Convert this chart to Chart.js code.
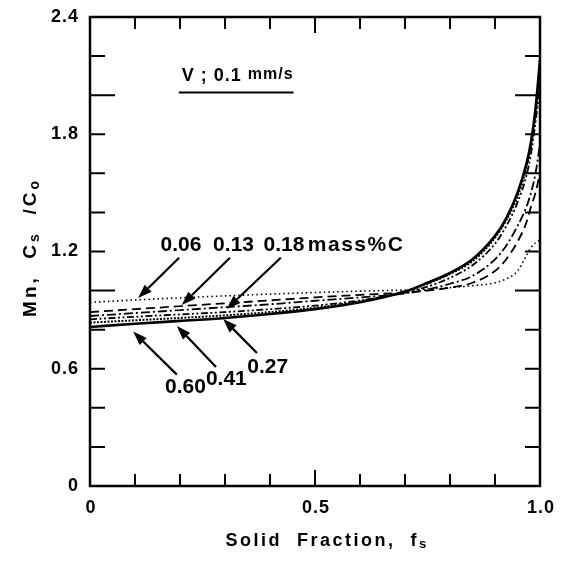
<!DOCTYPE html>
<html>
<head>
<meta charset="utf-8">
<script src="https://cdn.jsdelivr.net/npm/chart.js@4.4.1/dist/chart.umd.min.js"></script>
<style>
  html, body { margin: 0; padding: 0; background: #fff; }
  canvas { display: block; }
</style>
</head>
<body>
<canvas id="chart" width="561" height="563"></canvas>
<script>
// Mn segregation in the solid vs solid fraction, several carbon levels
const FONT = "'Liberation Sans', Arial, Helvetica, sans-serif";
const INK = '#000';

const FS = [0, 0.1, 0.2, 0.3, 0.4, 0.5, 0.6, 0.7, 0.75, 0.8, 0.85, 0.9, 0.925, 0.95, 0.97, 0.98, 0.99, 1.0];

const CS_006 = [0.94, 0.952, 0.963, 0.973, 0.982, 0.99, 0.997, 1.003, 1.008, 1.015, 1.025, 1.04, 1.06, 1.10, 1.18, 1.22, 1.245, 1.26];
const CS_013 = [0.89, 0.905, 0.92, 0.935, 0.95, 0.965, 0.978, 0.99, 1.0, 1.015, 1.04, 1.10, 1.16, 1.25, 1.35, 1.43, 1.50, 1.60];
const CS_018 = [0.87, 0.885, 0.90, 0.915, 0.93, 0.948, 0.965, 0.985, 1.005, 1.035, 1.075, 1.16, 1.23, 1.33, 1.43, 1.50, 1.60, 1.75];
const CS_027 = [0.853, 0.866, 0.878, 0.89, 0.905, 0.923, 0.95, 0.99, 1.02, 1.065, 1.13, 1.24, 1.33, 1.45, 1.59, 1.70, 1.86, 2.05];
const CS_041 = [0.836, 0.848, 0.86, 0.873, 0.89, 0.912, 0.945, 0.995, 1.035, 1.085, 1.15, 1.27, 1.36, 1.48, 1.63, 1.74, 1.90, 2.12];
const CS_060 = [0.814, 0.83, 0.845, 0.86, 0.88, 0.905, 0.94, 0.995, 1.04, 1.09, 1.16, 1.28, 1.37, 1.50, 1.65, 1.76, 1.93, 2.18];

const CARBON = ['0.06', '0.13', '0.18', '0.27', '0.41', '0.60'];

const X_TICKS = [0, 0.1, 0.2, 0.3, 0.4, 0.5, 0.6, 0.7, 0.8, 0.9, 1.0];
const X_LABELS = [[0, '0'], [0.5, '0.5'], [1.0, '1.0']];
const Y_TICKS = [0, 0.2, 0.4, 0.6, 0.8, 1.0, 1.2, 1.4, 1.6, 1.8, 2.0, 2.2, 2.4];
const Y_LABELS = [[0, '0'], [0.6, '0.6'], [1.2, '1.2'], [1.8, '1.8'], [2.4, '2.4']];

// callouts: label position, arrow tail, arrow tip (data units)
const CALLOUTS = [
  { text: '0.06', at: [0.202, 1.231], from: [0.198, 1.168], to: [0.107, 0.962] },
  { text: '0.13', at: [0.319, 1.231], from: [0.311, 1.168], to: [0.204, 0.926] },
  { text: '0.18', at: [0.431, 1.231], from: [0.424, 1.168], to: [0.304, 0.906] },
  { text: '0.60', at: [0.212, 0.504], from: [0.193, 0.570], to: [0.096, 0.790] },
  { text: '0.41', at: [0.303, 0.545], from: [0.280, 0.609], to: [0.193, 0.819] },
  { text: '0.27', at: [0.395, 0.606], from: [0.371, 0.681], to: [0.296, 0.855] }
];

const STYLES = {
  '0.06': { width: 1.6, dash: [1.5, 3] },
  '0.13': { width: 1.8, dash: [9, 5] },
  '0.18': { width: 1.8, dash: [9, 3, 2, 3] },
  '0.27': { width: 1.8, dash: [7, 2.5, 2, 2.5, 2, 2.5] },
  '0.41': { width: 2.0, dash: [2, 1.5] },
  '0.60': { width: 2.6, dash: [] }
};

function pts(ys) {
  return FS.map((x, i) => ({ x, y: ys[i] }));
}

function ds(label, ys) {
  const s = STYLES[label];
  return {
    label,
    data: pts(ys),
    borderColor: INK,
    borderWidth: s.width,
    borderDash: s.dash,
    pointRadius: 0,
    cubicInterpolationMode: 'monotone',
    fill: false
  };
}

function textRun(ctx, parts, x, y, align) {
  // parts: [text, size, dy]
  const widths = parts.map(p => { ctx.font = 'bold ' + p[1] + 'px ' + FONT; return ctx.measureText(p[0]).width; });
  const total = widths.reduce((a, b) => a + b, 0);
  let cx = align === 'center' ? x - total / 2 : (align === 'right' ? x - total : x);
  parts.forEach((p, i) => {
    ctx.font = 'bold ' + p[1] + 'px ' + FONT;
    ctx.textAlign = 'left';
    ctx.fillText(p[0], cx, y + (p[2] || 0));
    cx += widths[i];
  });
  return total;
}

function arrow(ctx, x1, y1, x2, y2) {
  const a = Math.atan2(y2 - y1, x2 - x1);
  const len = 14, half = 5;
  const bx = x2 - len * Math.cos(a), by = y2 - len * Math.sin(a);
  ctx.beginPath();
  ctx.moveTo(x1, y1);
  ctx.lineTo(bx, by);
  ctx.lineWidth = 2.2;
  ctx.stroke();
  ctx.beginPath();
  ctx.moveTo(x2, y2);
  ctx.lineTo(bx + half * Math.sin(a), by - half * Math.cos(a));
  ctx.lineTo(bx - half * Math.sin(a), by + half * Math.cos(a));
  ctx.closePath();
  ctx.fill();
}

const framePlugin = {
  id: 'frame',
  afterDatasetsDraw(chart) {
    const { ctx, chartArea: a, scales: { x, y } } = chart;
    ctx.save();
    ctx.strokeStyle = INK;
    ctx.fillStyle = INK;
    ctx.letterSpacing = '0px';

    // frame
    ctx.lineWidth = 2.5;
    ctx.strokeRect(a.left, a.top, a.right - a.left, a.bottom - a.top);

    // inward ticks on all four sides
    ctx.lineWidth = 2;
    ctx.beginPath();
    X_TICKS.forEach(v => {
      const px = x.getPixelForValue(v);
      const len = Math.abs(v - 0.5) < 1e-6 ? 16 : 12;
      ctx.moveTo(px, a.bottom); ctx.lineTo(px, a.bottom - len);
      ctx.moveTo(px, a.top); ctx.lineTo(px, a.top + len);
    });
    Y_TICKS.forEach(v => {
      const py = y.getPixelForValue(v);
      const major = Math.abs(v - 1) < 1e-6 || Math.abs(v - 2) < 1e-6;
      const len = major ? 25 : 15;
      ctx.moveTo(a.left, py); ctx.lineTo(a.left + len, py);
      ctx.moveTo(a.right, py); ctx.lineTo(a.right - len, py);
    });
    ctx.stroke();

    // tick labels
    ctx.textBaseline = 'middle';
    ctx.font = 'bold 18px ' + FONT;
    ctx.letterSpacing = '1px';
    ctx.textAlign = 'right';
    Y_LABELS.forEach(([v, t]) => ctx.fillText(t, a.left - 11, y.getPixelForValue(v)));
    ctx.textAlign = 'center';
    X_LABELS.forEach(([v, t]) => ctx.fillText(t, x.getPixelForValue(v) + 1, a.bottom + 22));

    // axis titles
    ctx.textBaseline = 'alphabetic';
    ctx.letterSpacing = '2.5px';
    textRun(ctx, [['Solid  Fraction,  f', 18], ['s', 13, 2]], (a.left + a.right) / 2 + 12, a.bottom + 60, 'center');

    ctx.save();
    ctx.translate(36, (a.top + a.bottom) / 2 - 4);
    ctx.rotate(-Math.PI / 2);
    ctx.letterSpacing = '3px';
    textRun(ctx, [['Mn,  C', 19], ['s', 14, 3], ['  /C', 19], ['o', 14, 3]], 0, 0, 'center');
    ctx.restore();

    // run condition
    ctx.letterSpacing = '1px';
    const vx = x.getPixelForValue(0.204);
    const vy = y.getPixelForValue(2.07);
    const w = textRun(ctx, [['V ; 0.1 ', 18], ['mm/s', 16, -2]], vx, vy, 'left');
    ctx.lineWidth = 2;
    ctx.beginPath();
    ctx.moveTo(vx - 3, vy + 11); ctx.lineTo(vx + w, vy + 11);
    ctx.stroke();

    // carbon callouts
    ctx.letterSpacing = '0px';
    ctx.textBaseline = 'middle';
    CALLOUTS.forEach(c => {
      ctx.font = 'bold 21px ' + FONT;
      ctx.textAlign = 'center';
      ctx.fillText(c.text, x.getPixelForValue(c.at[0]), y.getPixelForValue(c.at[1]));
      arrow(ctx, x.getPixelForValue(c.from[0]), y.getPixelForValue(c.from[1]),
                 x.getPixelForValue(c.to[0]), y.getPixelForValue(c.to[1]));
    });
    ctx.letterSpacing = '1.5px';
    ctx.font = 'bold 21px ' + FONT;
    ctx.textAlign = 'left';
    ctx.fillText('mass%C', x.getPixelForValue(0.484), y.getPixelForValue(1.231));

    ctx.restore();
  }
};

new Chart(document.getElementById('chart'), {
  type: 'line',
  data: {
    datasets: [
      ds(CARBON[0], CS_006),
      ds(CARBON[1], CS_013),
      ds(CARBON[2], CS_018),
      ds(CARBON[3], CS_027),
      ds(CARBON[4], CS_041),
      ds(CARBON[5], CS_060)
    ]
  },
  options: {
    responsive: false,
    animation: false,
    layout: { padding: { left: 90, right: 21, top: 17, bottom: 77 } },
    plugins: { legend: { display: false }, tooltip: { enabled: false } },
    scales: {
      x: { type: 'linear', min: 0, max: 1, display: false },
      y: { type: 'linear', min: 0, max: 2.4, display: false }
    }
  },
  plugins: [framePlugin]
});
</script>
</body>
</html>
